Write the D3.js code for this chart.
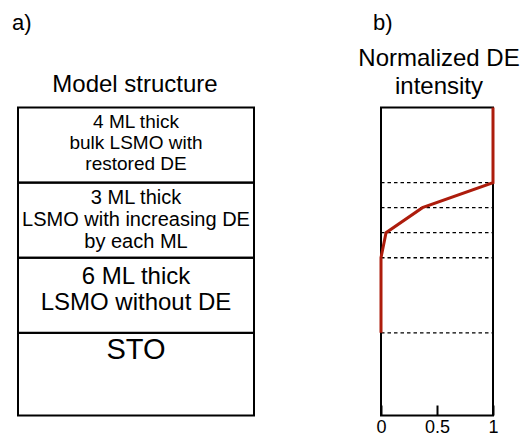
<!DOCTYPE html>
<html>
<head>
<meta charset="utf-8">
<script src="https://cdn.jsdelivr.net/npm/d3@7"></script>
<style>
  body { margin: 0; background: #fff; }
  text { font-family: 'Liberation Sans', Arial, Helvetica, sans-serif; fill: #000; }
</style>
</head>
<body>
<svg class="chart"></svg>
<script>
// Layer boundaries (depth units, top = 0) and labels of the model structure
const layerBounds = [0, 3, 6, 9, 12.3];
const layerLabels = [
  ['4 ML thick', 'bulk LSMO with', 'restored DE'],
  ['3 ML thick', 'LSMO with increasing DE', 'by each ML'],
  ['6 ML thick', 'LSMO without DE'],
  ['STO']
];
const layerFont = [19, 20, 24, 29];

// Dashed monolayer guide lines in panel b
const guideDepths = [3, 4, 5, 6, 9];

// Normalized DE intensity profile
const profileDepth = [0, 3, 4, 5, 6, 9];
const profileValue = [1, 1, 0.37, 0.045, 0, 0];
const xTicks = [0, 0.5, 1];

const svgWidth = 525;
const svgHeight = 436;

const svg = d3.select('.chart')
  .attr('width', svgWidth)
  .attr('height', svgHeight);

// Shared vertical scale
const yScale = d3.scaleLinear()
  .domain([0, 12.3])
  .range([107.5, 415.5]);

// ---------- panel a ----------
svg.append('text')
  .attr('x', 12)
  .attr('y', 30)
  .attr('font-size', '22px')
  .text('a)');

svg.append('text')
  .attr('x', 135)
  .attr('y', 92)
  .attr('text-anchor', 'middle')
  .attr('font-size', '24px')
  .text('Model structure');

const boxLeft = 18;
const boxRight = 254;

const layers = layerLabels.map((lines, i) => ({
  lines: lines,
  top: layerBounds[i],
  bottom: layerBounds[i + 1],
  size: layerFont[i]
}));

svg.selectAll('rect.layer')
  .data(layers)
  .enter()
  .append('rect')
  .attr('class', 'layer')
  .attr('x', boxLeft)
  .attr('y', d => yScale(d.top))
  .attr('width', boxRight - boxLeft)
  .attr('height', d => yScale(d.bottom) - yScale(d.top))
  .attr('fill', 'none')
  .attr('stroke', 'black')
  .attr('stroke-width', 2);

const labelGroups = svg.selectAll('text.layer-label')
  .data(layers)
  .enter()
  .append('text')
  .attr('class', 'layer-label')
  .attr('text-anchor', 'middle')
  .attr('font-size', d => d.size + 'px');

labelGroups.selectAll('tspan')
  .data(d => d.lines.map((t, j) => ({ t: t, j: j, d: d })))
  .enter()
  .append('tspan')
  .attr('x', (boxLeft + boxRight) / 2)
  .attr('y', e => yScale(e.d.top) + Math.min(e.d.size, 24) * 1.08 + e.j * e.d.size * 1.1)
  .text(e => e.t);

// ---------- panel b ----------
svg.append('text')
  .attr('x', 373)
  .attr('y', 30)
  .attr('font-size', '22px')
  .text('b)');

svg.append('text')
  .attr('x', 439)
  .attr('y', 66)
  .attr('text-anchor', 'middle')
  .attr('font-size', '24px')
  .text('Normalized DE');

svg.append('text')
  .attr('x', 439)
  .attr('y', 94)
  .attr('text-anchor', 'middle')
  .attr('font-size', '24px')
  .text('intensity');

const xScale = d3.scaleLinear()
  .domain([0, 1])
  .range([381, 493]);

// dashed guides
svg.selectAll('line.guide')
  .data(guideDepths)
  .enter()
  .append('line')
  .attr('class', 'guide')
  .attr('x1', xScale(0))
  .attr('x2', xScale(1))
  .attr('y1', d => yScale(d))
  .attr('y2', d => yScale(d))
  .attr('stroke', 'black')
  .attr('stroke-width', 1.3)
  .attr('stroke-dasharray', '3.5 3');

// frame
svg.append('rect')
  .attr('x', xScale(0))
  .attr('y', yScale(0))
  .attr('width', xScale(1) - xScale(0))
  .attr('height', yScale(12.3) - yScale(0))
  .attr('fill', 'none')
  .attr('stroke', 'black')
  .attr('stroke-width', 2);

// bottom axis, tick pointing inward
const xAxisGroup = svg.append('g')
  .attr('transform', 'translate(0,' + yScale(12.3) + ')')
  .call(d3.axisBottom(xScale)
    .tickValues(xTicks)
    .tickSizeInner(-10)
    .tickSizeOuter(0)
    .tickPadding(5)
    .tickFormat(d3.format('')));

xAxisGroup.select('.domain').remove();
xAxisGroup.selectAll('line').attr('stroke', 'black').attr('stroke-width', 2);
xAxisGroup.selectAll('text')
  .attr('font-family', "'Liberation Sans', Arial, Helvetica, sans-serif")
  .attr('font-size', '18px')
  .attr('fill', 'black');

// profile line
const profile = profileDepth.map((d, i) => ({ depth: d, value: profileValue[i] }));

const line = d3.line()
  .x(d => xScale(d.value))
  .y(d => yScale(d.depth));

svg.append('path')
  .datum(profile)
  .attr('fill', 'none')
  .attr('stroke', '#ad1c0c')
  .attr('stroke-width', 3)
  .attr('stroke-linejoin', 'miter')
  .attr('d', line);
</script>
</body>
</html>
